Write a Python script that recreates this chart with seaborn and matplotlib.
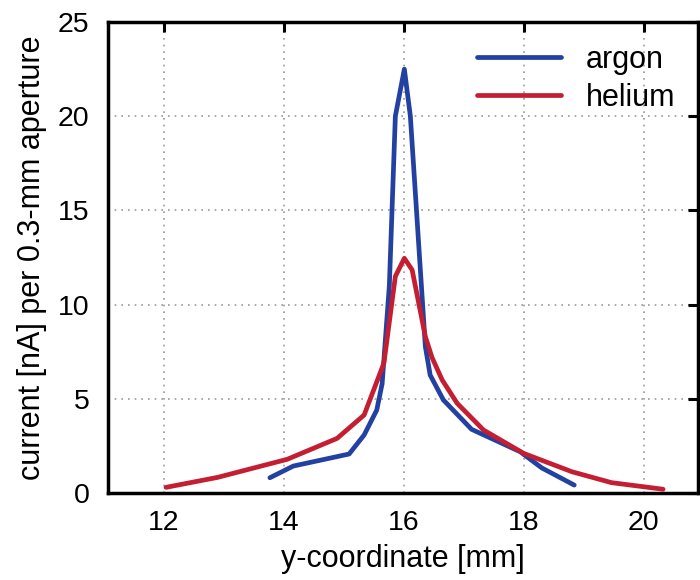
import numpy as np
import pandas as pd
import matplotlib
matplotlib.use("Agg")
import matplotlib.pyplot as plt
import seaborn as sns

argon_x = [13.77, 14.16, 15.09, 15.34, 15.55, 15.64, 15.76, 15.86, 16.01, 16.11, 16.36, 16.44, 16.66, 17.13, 17.94, 18.30, 18.84]
argon_y = [0.81, 1.43, 2.07, 3.08, 4.40, 5.80, 11.0, 20.0, 22.5, 20.0, 7.77, 6.26, 4.94, 3.38, 2.19, 1.33, 0.42]

helium_x = [12.04, 12.90, 14.06, 14.89, 15.34, 15.67, 15.86, 16.01, 16.14, 16.36, 16.47, 16.64, 16.89, 17.33, 18.00, 18.80, 19.46, 20.32]
helium_y = [0.30, 0.83, 1.79, 2.90, 4.14, 6.9, 11.5, 12.46, 11.84, 8.3, 7.2, 6.0, 4.76, 3.34, 2.10, 1.13, 0.55, 0.20]

xticks = [12, 14, 16, 18, 20]
yticks = [0, 5, 10, 15, 20, 25]

df = pd.concat([
    pd.DataFrame({"x": argon_x, "y": argon_y, "gas": "argon"}),
    pd.DataFrame({"x": helium_x, "y": helium_y, "gas": "helium"}),
], ignore_index=True)

sns.set_style("white")
plt.rcParams["font.family"] = ["Liberation Sans", "DejaVu Sans"]
plt.rcParams["text.color"] = "black"
plt.rcParams["axes.labelcolor"] = "black"
plt.rcParams["xtick.color"] = "black"
plt.rcParams["ytick.color"] = "black"

fig = plt.figure(figsize=(7, 5.8), dpi=100)
ax = fig.add_axes([0.154, 0.15, 0.843, 0.812])

sns.lineplot(data=df, x="x", y="y", hue="gas", estimator=None, sort=False,
             palette={"argon": "#2241a0", "helium": "#c41e32"}, linewidth=3.4, ax=ax)

ax.set_xlim(11.07, 20.9)
ax.set_ylim(0, 25)
ax.set_xticks(xticks)
ax.set_yticks(yticks)
ax.tick_params(direction="in", length=7, width=2.2, labelsize=20.5, top=True, right=True)
ax.tick_params(axis="x", pad=12)
ax.tick_params(axis="y", pad=13)
for s in ax.spines.values():
    s.set_linewidth(2.5)
    s.set_color("black")
ax.grid(True, linestyle=(0, (1, 3)), color="#999999", linewidth=1.2)
ax.set_axisbelow(True)
ax.set_xlabel("y-coordinate [mm]", fontsize=22, labelpad=6)
ax.set_ylabel("current [nA] per 0.3-mm aperture", fontsize=22, labelpad=8)

leg = ax.legend(loc="upper right", frameon=False, fontsize=22, handlelength=2.75,
                handletextpad=0.8, labelspacing=0.25, borderaxespad=0.35)
for l in leg.get_lines():
    l.set_linewidth(3.4)

fig.savefig("out.png", dpi=100)
